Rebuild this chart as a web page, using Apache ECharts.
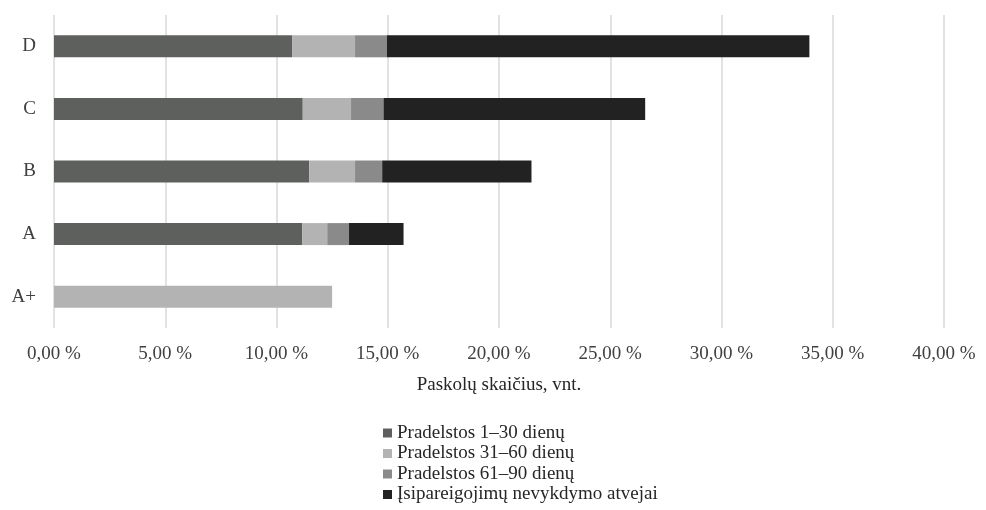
<!DOCTYPE html>
<html>
<head>
<meta charset="utf-8">
<script src="https://cdn.jsdelivr.net/npm/echarts@6/dist/echarts.min.js"></script>
<style>
  html, body { margin: 0; padding: 0; background: #ffffff; }
  #chart { width: 986px; height: 510px; }
</style>
</head>
<body>
<div id="chart"></div>
<script>
// Rating groups, bottom to top
const categories = ['A+', 'A', 'B', 'C', 'D'];

// Share of loans by delinquency status, %
const late1to30 = [0, 11.15, 11.47, 11.18, 10.70];
const late31to60 = [12.50, 1.13, 2.06, 2.17, 2.83];
const late61to90 = [0, 0.98, 1.22, 1.46, 1.43];
const defaults = [0, 2.45, 6.71, 11.76, 18.99];

const seriesNames = [
  'Pradelstos 1–30 dienų',
  'Pradelstos 31–60 dienų',
  'Pradelstos 61–90 dienų',
  'Įsipareigojimų nevykdymo atvejai'
];
const seriesColors = ['#5e605e', '#b3b3b3', '#8a8a8a', '#222222'];

const axisMin = 0;
const axisMax = 40;
const axisStep = 5;

const font = '"Liberation Serif", "Times New Roman", serif';

const chart = echarts.init(document.getElementById('chart'), null, { renderer: 'canvas' });

const seriesData = [late1to30, late31to60, late61to90, defaults];

chart.setOption({
  backgroundColor: '#ffffff',
  animation: false,
  textStyle: { fontFamily: font },
  grid: { left: 54, right: 42, top: 15, bottom: 182, containLabel: false },
  xAxis: {
    type: 'value',
    min: axisMin,
    max: axisMax,
    interval: axisStep,
    name: 'Paskolų skaičius, vnt.',
    nameLocation: 'middle',
    nameGap: 48,
    nameTextStyle: { fontFamily: font, fontSize: 19, color: '#262626' },
    axisLine: { show: false },
    axisTick: { show: false },
    axisLabel: {
      fontFamily: font,
      fontSize: 19,
      color: '#404040',
      margin: 17,
      formatter: v => v.toFixed(2).replace('.', ',') + ' %'
    },
    splitLine: { show: true, lineStyle: { color: '#d9d9d9', width: 1.5 } }
  },
  yAxis: {
    type: 'category',
    data: categories,
    axisLine: { show: false },
    axisTick: { show: false },
    splitLine: { show: false },
    axisLabel: { fontFamily: font, fontSize: 19, color: '#404040', margin: 18 }
  },
  legend: {
    orient: 'vertical',
    left: 378,
    top: 418,
    height: 200,
    icon: 'rect',
    itemWidth: 9,
    itemHeight: 9,
    itemGap: 0.5,
    textStyle: { fontFamily: font, fontSize: 19, color: '#262626', lineHeight: 20 },
    data: seriesNames
  },
  series: seriesNames.map((name, i) => ({
    name: name,
    type: 'bar',
    stack: 'total',
    barWidth: 22,
    itemStyle: { color: seriesColors[i] },
    emphasis: { disabled: true },
    data: seriesData[i]
  }))
});
</script>
</body>
</html>
